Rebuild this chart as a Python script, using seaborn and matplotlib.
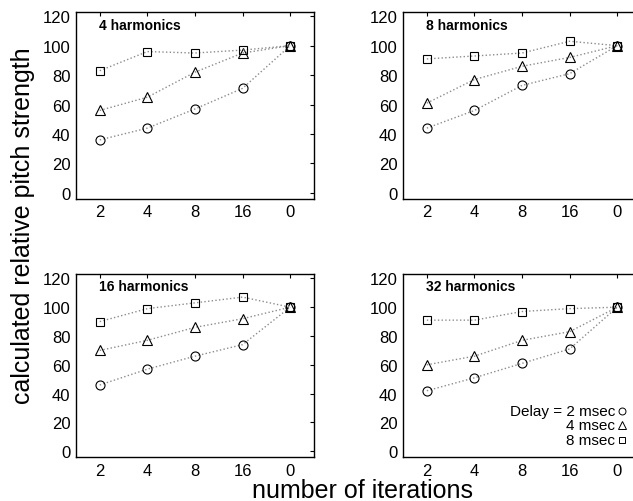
import pandas as pd
import seaborn as sns
import matplotlib.pyplot as plt

# iteration counts (shown as categories, "0" is the reference point)
iterations = ['2', '4', '8', '16', '0']
harmonics = ['4 harmonics', '8 harmonics', '16 harmonics', '32 harmonics']

# pitch strength for each delay, one list per panel
delay_2ms = [
    [36, 44, 57, 71, 100],
    [44, 56, 73, 81, 100],
    [46, 57, 66, 74, 100],
    [42, 51, 61, 71, 100],
]
delay_4ms = [
    [56, 65, 82, 95, 100],
    [61, 77, 86, 92, 100],
    [70, 77, 86, 92, 100],
    [60, 66, 77, 83, 100],
]
delay_8ms = [
    [83, 96, 95, 97, 100],
    [91, 93, 95, 103, 100],
    [90, 99, 103, 107, 100],
    [91, 91, 97, 99, 100],
]

delay_labels = ['Delay = 2 msec', '4 msec', '8 msec']
markers = ['o', '^', 's']
msizes = [6.5, 7, 5.5]

sns.set_style('white')
plt.rcParams['font.family'] = ['Liberation Sans', 'DejaVu Sans']
plt.rcParams['text.color'] = 'black'

fig = plt.figure(figsize=(6.33, 5.02), dpi=100)
boxes = [
    [0.120, 0.602, 0.376, 0.3725],
    [0.6367, 0.602, 0.376, 0.3725],
    [0.120, 0.0876, 0.376, 0.3645],
    [0.6367, 0.0876, 0.376, 0.3645],
]

for i, box in enumerate(boxes):
    ax = fig.add_axes(box)
    for vals, m, ms in zip([delay_2ms[i], delay_4ms[i], delay_8ms[i]], markers, msizes):
        df = pd.DataFrame({'iterations': iterations, 'strength': vals})
        sns.lineplot(data=df, x='iterations', y='strength', sort=False, estimator=None,
                     ax=ax, color='0.55', linestyle=':', linewidth=1.0,
                     marker=m, markersize=ms, markerfacecolor='none',
                     markeredgecolor='black', markeredgewidth=0.8)
    ax.set_xlim(-0.5, 4.5)
    ax.set_ylim(-4, 123)
    ax.set_yticks(range(0, 121, 20))
    ax.set_xlabel('')
    ax.set_ylabel('')
    ax.tick_params(direction='in', top=True, right=True, length=3, width=0.8,
                   labelsize=12, pad=4, colors='black')
    for s in ax.spines.values():
        s.set_color('black')
        s.set_linewidth(1.0)
    ax.text(0.097, 0.93 if i < 2 else 0.935, harmonics[i], transform=ax.transAxes,
            fontsize=10, fontweight='bold', va='center', ha='left', color='black')

    if i == 3:
        ys = [28, 18, 8]
        for lab, m, ms, y in zip(delay_labels, markers, msizes, ys):
            ax.text(3.96, y, lab, ha='right', va='center', fontsize=11, color='black')
            ax.plot([4.1], [y], marker=m, markersize=ms - 1.5, markerfacecolor='none',
                    markeredgecolor='black', markeredgewidth=0.7, linestyle='none')

fig.text(0.572, 0.022, 'number of iterations', ha='center', va='center', fontsize=18)
fig.text(0.037, 0.55, 'calculated relative pitch strength', ha='center', va='center',
         rotation=90, fontsize=18)

fig.savefig('out.png', dpi=100)
